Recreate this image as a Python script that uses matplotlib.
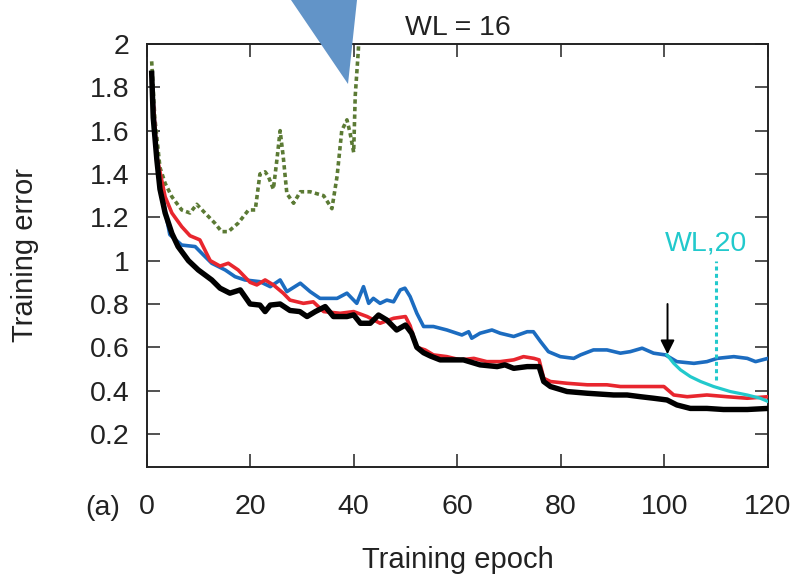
import matplotlib
matplotlib.use("Agg")
import matplotlib.pyplot as plt
from matplotlib.patches import Polygon

plt.rcParams['font.family'] = ['Liberation Sans', 'DejaVu Sans']

# ---- data -------------------------------------------------------------
epoch_black = [1, 1.3, 2, 2.6, 3.6, 4.9, 6.1, 8.1, 10, 12.6, 14.2, 16.1, 18.1, 20,
               21.9, 22.9, 23.9, 25.8, 27.7, 29.6, 31, 32.6, 34.5, 36.1, 38.7, 40,
               41.3, 43.2, 44.8, 46.4, 48.3, 50, 51.2, 52.2, 53.5, 54.8, 56.7, 58,
               61.2, 64.4, 67.7, 69.2, 70.9, 73.5, 75.8, 76.7, 78, 81.2, 85.1, 90.2,
               92.8, 95.4, 97.9, 100.5, 102.4, 105, 108.2, 111.4, 116, 120]
err_black = [1.865, 1.66, 1.465, 1.33, 1.22, 1.126, 1.065, 1.0, 0.957, 0.911, 0.873,
             0.85, 0.865, 0.80, 0.795, 0.765, 0.795, 0.80, 0.77, 0.765, 0.742, 0.765,
             0.788, 0.742, 0.742, 0.75, 0.711, 0.711, 0.749, 0.726, 0.68, 0.703,
             0.665, 0.60, 0.575, 0.56, 0.542, 0.542, 0.542, 0.519, 0.511, 0.519,
             0.503, 0.511, 0.511, 0.442, 0.419, 0.396, 0.388, 0.38, 0.38, 0.372,
             0.365, 0.357, 0.334, 0.318, 0.318, 0.313, 0.313, 0.318]

epoch_red = [1, 2, 3.6, 4.9, 6.8, 8.4, 10.3, 12.3, 14.2, 15.8, 17.7, 20, 21.3, 22.9,
             24.5, 26.4, 27.7, 30.3, 32.2, 34.2, 37.4, 40, 42.6, 45.1, 47.7, 50,
             50.9, 52.2, 53.8, 55.4, 58, 60.6, 63.2, 65.7, 68.3, 70.9, 72.8, 74.8,
             75.8, 76.7, 78, 81.2, 85.1, 88.9, 91.5, 95.4, 99.9, 101.8, 104.4, 108.2,
             112.1, 116, 120]
err_red = [1.85, 1.48, 1.295, 1.22, 1.157, 1.115, 1.096, 1.00, 0.975, 0.988, 0.957,
           0.90, 0.888, 0.911, 0.888, 0.85, 0.818, 0.803, 0.81, 0.765, 0.757, 0.765,
           0.742, 0.711, 0.734, 0.742, 0.70, 0.60, 0.588, 0.565, 0.557, 0.542, 0.549,
           0.534, 0.534, 0.542, 0.557, 0.549, 0.542, 0.457, 0.442, 0.434, 0.427,
           0.427, 0.419, 0.419, 0.419, 0.38, 0.372, 0.38, 0.372, 0.365, 0.372]

epoch_blue = [1, 2, 3.6, 4.5, 6.8, 9.4, 11, 12.6, 15.2, 17.1, 19, 21.9, 23.9, 25.8,
              27.1, 29.7, 31.6, 33.5, 36.8, 38.7, 40.6, 41.9, 42.9, 43.8, 45.1, 46.4,
              47.7, 49, 49.9, 50.9, 52.2, 53.5, 55.4, 58, 60.9, 62.2, 62.8, 64.4,
              66.7, 68.3, 70.9, 73.5, 74.7, 76.1, 77.6, 79.9, 82.5, 83.8, 86.3, 88.9,
              91.5, 93.4, 95.7, 97.9, 100.2, 102.4, 105.7, 108.2, 110.2, 113.4, 116,
              117.6, 120]
err_blue = [1.86, 1.47, 1.23, 1.12, 1.072, 1.065, 1.026, 0.988, 0.957, 0.926, 0.911,
            0.903, 0.88, 0.911, 0.857, 0.896, 0.857, 0.826, 0.826, 0.85, 0.803, 0.88,
            0.803, 0.826, 0.803, 0.818, 0.81, 0.865, 0.873, 0.834, 0.757, 0.696,
            0.696, 0.68, 0.657, 0.672, 0.642, 0.665, 0.68, 0.665, 0.65, 0.672, 0.672,
            0.626, 0.58, 0.557, 0.549, 0.565, 0.588, 0.588, 0.573, 0.58, 0.596,
            0.573, 0.565, 0.534, 0.526, 0.534, 0.549, 0.557, 0.549, 0.534, 0.549]

epoch_green = [1, 1.6, 2.6, 3.6, 4.9, 6.8, 8.4, 9.7, 11.3, 13.2, 14.5, 15.8, 17.7,
               19.7, 21, 21.9, 22.9, 23.5, 24.5, 25.2, 25.8, 26.4, 27.1, 28.4, 29.7,
               31.6, 34.2, 35.8, 36.8, 37.7, 38.7, 39.3, 40.0, 40.3, 40.9, 41.5]
err_green = [1.92, 1.66, 1.43, 1.357, 1.295, 1.234, 1.22, 1.26, 1.22, 1.173, 1.134,
             1.134, 1.173, 1.234, 1.234, 1.40, 1.41, 1.39, 1.33, 1.47, 1.60, 1.48,
             1.31, 1.265, 1.318, 1.318, 1.30, 1.24, 1.39, 1.60, 1.65, 1.59, 1.50,
             1.76, 1.97, 2.3]

epoch_cyan = [100.5, 101.8, 103.1, 105, 107, 109.5, 112.7, 116, 118.5, 120]
err_cyan = [0.565, 0.526, 0.496, 0.465, 0.442, 0.419, 0.396, 0.38, 0.365, 0.35]

x_ticks = [0, 20, 40, 60, 80, 100, 120]
y_ticks = [0.2, 0.4, 0.6, 0.8, 1.0, 1.2, 1.4, 1.6, 1.8, 2.0]

switch_epoch = 100.6      # arrow marking the word-length switch
wl20_epoch = 110          # dotted marker for WL,20

# ---- figure -------------------------------------------------------------
W, H = 797, 575
fig = plt.figure(figsize=(W / 100, H / 100), dpi=100)
ax = fig.add_axes([146.5 / W, 1 - 466.7 / H, 621.5 / W, 422.7 / H])

ax.plot(epoch_green, err_green, color='#5b7a34', lw=2.6,
        linestyle=(0, (1.2, 0.9)), zorder=2)
ax.plot(epoch_blue, err_blue, color='#1c6cc0', lw=2.6, zorder=3)
ax.plot(epoch_red, err_red, color='#e8262e', lw=2.6, zorder=4)
ax.plot(epoch_cyan, err_cyan, color='#22c9cc', lw=2.3, zorder=5)
ax.plot(epoch_black, err_black, color='black', lw=3.9, zorder=6)

ax.plot([wl20_epoch, wl20_epoch], [0.45, 1.0], color='#22c9cc', lw=2.2,
        linestyle=(0, (1.3, 1.1)), zorder=5)
ax.text(108.0, 1.049, 'WL,20', color='#22c9cc', fontsize=20.5,
        ha='center', va='baseline')

ax.annotate('', xy=(switch_epoch, 0.568), xytext=(switch_epoch, 0.80),
            arrowprops=dict(arrowstyle='-|>', color='black', lw=1.4,
                            mutation_scale=21, shrinkA=0, shrinkB=0),
            zorder=7)

ax.set_xlim(0, 120)
ax.set_ylim(0.049, 2.0)
ax.set_xticks(x_ticks)
ax.set_yticks(y_ticks)
ax.set_yticklabels([f'{v:g}' for v in y_ticks])
ax.tick_params(axis='both', direction='in', length=9.5, width=1.1,
               colors='#222222', labelsize=20.5, top=True, right=True)
ax.tick_params(axis='x', pad=19.5)
ax.tick_params(axis='y', pad=12)
for s in ax.spines.values():
    s.set_linewidth(1.4)
    s.set_color('#222222')

fig.text(458 / W, 1 - 35 / H, 'WL = 16', fontsize=20.5, color='#222222',
         ha='center', va='baseline')
fig.text(458 / W, 1 - 568 / H, 'Training epoch', fontsize=21, color='#222222',
         ha='center', va='baseline')
fig.text(25 / W, 1 - 255 / H, 'Training error', fontsize=21, color='#222222',
         ha='center', va='center', rotation=90)
fig.text(103 / W, 1 - 515 / H, '(a)', fontsize=20.5, color='#222222',
         ha='center', va='baseline')

tri = Polygon([(291 / W, 1.0), (357 / W, 1.0), (348 / W, 1 - 84 / H)],
              closed=True, transform=fig.transFigure, facecolor='#6294c8',
              edgecolor='none', zorder=20)
fig.patches.append(tri)

fig.savefig('out.png', dpi=100)
